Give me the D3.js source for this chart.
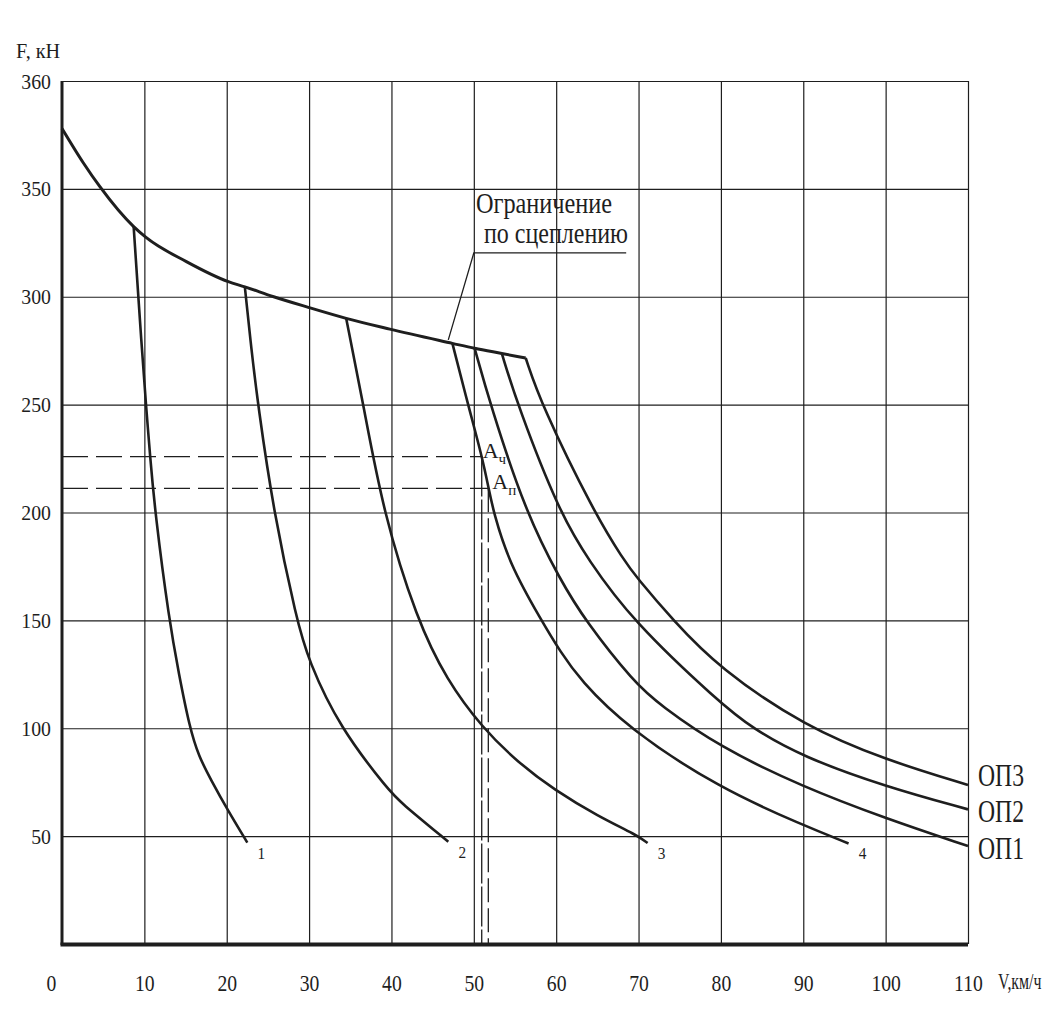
<!DOCTYPE html>
<html>
<head>
<meta charset="utf-8">
<script src="https://cdn.jsdelivr.net/npm/d3@7"></script>
<style>
  body { margin: 0; background: #fff; }
  svg { display: block; font-family: "Liberation Serif", "Times New Roman", serif; }
</style>
</head>
<body>
<div id="chart"></div>
<script>
// --- data (V, км/ч ; F, кН) ---
const xTicks = [0, 10, 20, 30, 40, 50, 60, 70, 80, 90, 100, 110];
const yTicks = [50, 100, 150, 200, 250, 300, 350, 400];
const yTickLabels = ["50", "100", "150", "200", "250", "300", "350", "360"];

// ограничение по сцеплению
const adhesion = [
  [0, 378], [2.6, 362], [4.6, 351], [8.7, 332.5], [10.2, 327.5], [15.1, 316.3],
  [20.2, 307], [22.2, 304.6], [25.7, 300], [29.9, 295.1], [34.5, 290], [39.8, 285],
  [47.4, 278.4], [50.1, 276.1], [53.4, 273.7], [56.3, 271.6]
];

const curve1 = [[8.7, 332.5], [9.7, 275.3], [10.2, 249.8], [10.7, 225.9], [11.3, 200], [13.0, 150.2],
  [14.2, 125], [15.5, 100.3], [16.6, 87], [18.1, 76], [20.1, 62.1], [22.5, 47]];
const curve2 = [[22.2, 304.6], [23.0, 275.3], [23.8, 249.8], [25.7, 200], [28.5, 150.2], [29.9, 131.6],
  [33.7, 100.3], [39.8, 70.6], [41.0, 66], [46.9, 47.4]];
const curve3 = [[34.5, 290], [36.6, 249.8], [39.0, 200], [43.1, 150.2], [46.7, 122.4],
  [51.0, 100.3], [55.4, 84], [59.8, 71.4], [65.1, 59.2], [69.8, 50.5], [71.1, 46.8]];
const curve4 = [[47.4, 278.4], [49.3, 250], [51.0, 225.9], [51.8, 211.2], [52.4, 200], [54.3, 176.4],
  [58.2, 150], [60.5, 135.5], [62.9, 122.4], [68.6, 100.3], [79.8, 72.2], [89.9, 55.2], [95.5, 46.6]];
const curveOP1 = [[50.1, 276.1], [52.0, 250], [56.3, 200], [60.5, 168.7], [63.5, 150], [69.5, 121],
  [72.6, 110.8], [79.8, 91.4], [89.9, 72.9], [100, 58.2], [110, 45.4]];
const curveOP2 = [[53.4, 273.7], [55.3, 250], [60.4, 200], [63.9, 178], [69.2, 150],
  [79.8, 112], [83.8, 100], [89.9, 86.8], [100, 72.9], [110, 62.4]];
const curveOP3 = [[56.3, 271.6], [58.2, 250], [64.6, 200], [68.2, 178], [69.7, 170.2], [74.2, 150],
  [79.8, 127.8], [90.2, 100.8], [100, 85.3], [110, 73.7]];

const regCurves = [curve1, curve2, curve3, curve4];
const regNames = ["1", "2", "3", "4"];
const opCurves = [curveOP1, curveOP2, curveOP3];
const opNames = ["ОП1", "ОП2", "ОП3"];

// точки А_ч и А_п
const pointCh = [50.96, 225.9];
const pointP = [51.76, 211.2];

// выноска "Ограничение по сцеплению"
const noteTarget = [46.9, 280];
const noteLineStart = [50.0, 320.3];
const noteLineEnd = [68.5, 320.3];

// --- chart ---
const W = 1049, H = 1035;
const ink = "#1e1e1e";
const serif = "'Liberation Serif', 'Times New Roman', serif";

const svg = d3.select("#chart").append("svg")
  .attr("width", W).attr("height", H)
  .attr("viewBox", `0 0 ${W} ${H}`)
  .attr("font-family", serif);

svg.append("rect").attr("width", W).attr("height", H).attr("fill", "#fff");

const x = d3.scaleLinear().domain([0, 110]).range([62, 968]);
const y = d3.scaleLinear().domain([0, 400]).range([944, 81]);

// grid
svg.append("g")
  .attr("transform", `translate(0,${y(0)})`)
  .call(d3.axisBottom(x).tickValues(xTicks.slice(1)).tickSize(-(y(0) - y(400))).tickFormat(""))
  .call((g) => g.select(".domain").remove())
  .selectAll("line").attr("stroke", ink).attr("stroke-width", 1.2);

svg.append("g")
  .attr("transform", `translate(${x(0)},0)`)
  .call(d3.axisLeft(y).tickValues(yTicks).tickSize(-(x(110) - x(0))).tickFormat(""))
  .call((g) => g.select(".domain").remove())
  .selectAll("line").attr("stroke", ink).attr("stroke-width", 1.2);

// thick axes
svg.append("line")
  .attr("x1", x(0)).attr("x2", x(0)).attr("y1", y(400)).attr("y2", y(0) + 1)
  .attr("stroke", ink).attr("stroke-width", 3);
svg.append("line")
  .attr("x1", x(0) - 1.5).attr("x2", x(110)).attr("y1", y(0) + 0.5).attr("y2", y(0) + 0.5)
  .attr("stroke", ink).attr("stroke-width", 4);

// tick labels
const ySx = 0.9;
const yAxis = svg.append("g")
  .attr("transform", `translate(${x(0)},0)`)
  .call(d3.axisLeft(y).tickValues(yTicks).tickSize(0).tickPadding(11)
    .tickFormat((d, i) => yTickLabels[i]));
yAxis.attr("font-family", serif);
yAxis.select(".domain").remove();
yAxis.selectAll("text")
  .attr("font-size", 22)
  .attr("fill", ink)
  .attr("x", -11 / ySx)
  .attr("transform", `scale(${ySx},1)`);

const xSx = 0.82;
const xAxis = svg.append("g")
  .attr("transform", `translate(0,${y(0)})`)
  .call(d3.axisBottom(x).tickValues(xTicks).tickSize(0).tickPadding(30).tickFormat(d3.format("d")));
xAxis.attr("font-family", serif);
xAxis.select(".domain").remove();
xAxis.selectAll("text")
  .attr("font-size", 24)
  .attr("fill", ink)
  .attr("transform", `scale(${xSx},1)`);
xAxis.selectAll(".tick").filter((d) => d === 0).select("text").attr("x", -11 / xSx);

// condensed text helper
function ctext(str, px, py, size, sx, anchor) {
  return svg.append("text")
    .attr("transform", `translate(${px},${py}) scale(${sx},1)`)
    .attr("font-size", size)
    .attr("text-anchor", anchor || "start")
    .attr("fill", ink)
    .text(str);
}

ctext("F, кН", 16, 58, 22, 0.92);
ctext("V,км/ч", 998, 989, 24, 0.66);

// dashed guides to A points
const dashed = svg.append("g").attr("stroke", ink).attr("stroke-width", 1.3).attr("fill", "none");
[pointCh, pointP].forEach((p, i) => {
  dashed.append("line")
    .attr("x1", x(0)).attr("x2", x(p[0])).attr("y1", y(p[1])).attr("y2", y(p[1]))
    .attr("stroke-dasharray", "26,8");
  dashed.append("line")
    .attr("x1", x(p[0])).attr("x2", x(p[0])).attr("y1", y(p[1])).attr("y2", y(0))
    .attr("stroke-dasharray", i === 0 ? "40,3" : "24,6");
});

// curves
const lineAdh = d3.line()
  .x((d) => x(d[0]))
  .y((d) => y(d[1]))
  .curve(d3.curveMonotoneX);

const line = d3.line()
  .x((d) => x(d[0]))
  .y((d) => y(d[1]))
  .curve(d3.curveBasis);

svg.append("path")
  .datum(adhesion)
  .attr("d", lineAdh)
  .attr("fill", "none")
  .attr("stroke", ink)
  .attr("stroke-width", 3)
  .attr("stroke-linejoin", "round");

svg.selectAll(".reg")
  .data(regCurves.concat(opCurves))
  .join("path")
  .attr("class", "reg")
  .attr("d", line)
  .attr("fill", "none")
  .attr("stroke", ink)
  .attr("stroke-width", 2.6);

// curve numbers
regCurves.forEach((c, i) => {
  const end = c[c.length - 1];
  ctext(regNames[i], x(end[0]) + 14, y(end[1]) + 16, 17, 0.9, "middle");
});

// OP labels
const opShift = [13, 13, 1];
opCurves.forEach((c, i) => {
  const end = c[c.length - 1];
  ctext(opNames[i], x(end[0]) + 10, y(end[1]) + opShift[i], 32, 0.74);
});

// A labels
function aLabel(p, sub, dx, dy) {
  const t = svg.append("text")
    .attr("x", x(p[0]) + dx).attr("y", y(p[1]) + dy)
    .attr("font-size", 22).attr("fill", ink);
  t.append("tspan").text("A");
  t.append("tspan").attr("font-size", 15).attr("dy", 6).text(sub);
}
aLabel(pointCh, "ч", 1, 1);
aLabel(pointP, "п", 4, 1);

// note
svg.append("polyline")
  .attr("points", [noteTarget, noteLineStart, noteLineEnd].map((p) => `${x(p[0])},${y(p[1])}`).join(" "))
  .attr("fill", "none")
  .attr("stroke", ink)
  .attr("stroke-width", 1.3);

const noteCx = (x(noteLineStart[0]) + x(noteLineEnd[0])) / 2;
ctext("Ограничение", noteCx - 6, y(noteLineStart[1]) - 40, 30, 0.81, "middle");
ctext("по сцеплению", noteCx + 6, y(noteLineStart[1]) - 10, 30, 0.8, "middle");
</script>
</body>
</html>
